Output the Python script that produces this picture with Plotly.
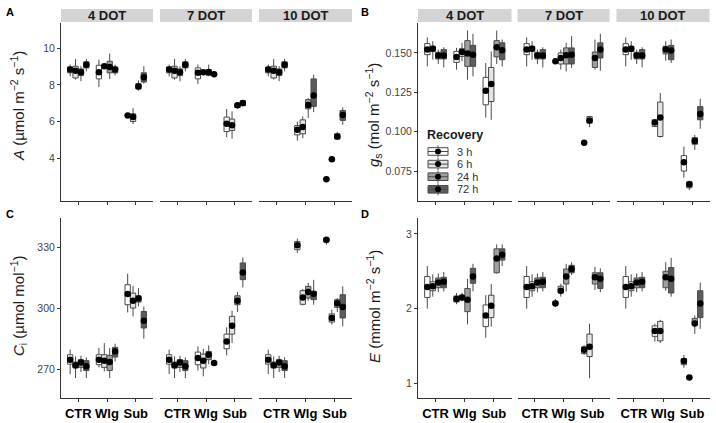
import plotly.graph_objects as go

W, H = 716, 423

# ---------------- data ----------------
RECOVERY = ["3 h", "6 h", "24 h", "72 h"]
TREATMENTS = ["CTR", "Wlg", "Sub"]
DOTS = ["4 DOT", "7 DOT", "10 DOT"]

# each row: (lower whisker, q1, median, q3, upper whisker, mean); rows ordered 3 h, 6 h, 24 h, 72 h
A_CTR = [(8.47, 8.66, 8.84, 8.98, 9.11, 8.84), (8.29, 8.38, 8.77, 9.02, 9.42, 8.77),
         (8.20, 8.51, 8.69, 8.87, 9.02, 8.69), (8.74, 8.93, 9.10, 9.26, 9.42, 9.10)]
A_WLG = [
    [(7.89, 8.33, 8.69, 9.07, 9.38, 8.69), (8.95, 8.98, 9.02, 9.06, 9.10, 9.02),
     (8.33, 8.66, 8.98, 9.29, 9.71, 8.98), (8.53, 8.66, 8.84, 8.98, 9.11, 8.84)],
    [(8.05, 8.33, 8.66, 8.93, 9.11, 8.66), (8.62, 8.65, 8.69, 8.75, 8.78, 8.69),
     (8.47, 8.52, 8.71, 8.84, 9.11, 8.71), (8.50, 8.55, 8.60, 8.65, 8.68, 8.58)],
    [(4.97, 5.28, 5.56, 5.79, 6.01, 5.56), (5.10, 5.34, 5.71, 6.10, 6.28, 5.71),
     (6.20, 6.70, 6.91, 7.20, 7.29, 6.91), (6.52, 6.83, 7.43, 8.33, 8.56, 7.43)],
]
A_SUB = [
    [(6.26, 6.29, 6.34, 6.38, 6.40, 6.34), (5.87, 6.01, 6.25, 6.43, 6.74, 6.25),
     (7.69, 7.78, 7.92, 8.07, 8.25, 7.92), (8.07, 8.16, 8.42, 8.66, 9.02, 8.42)],
    [(5.16, 5.46, 5.89, 6.25, 6.69, 5.89), (5.07, 5.52, 5.81, 6.14, 6.56, 5.81),
     (6.72, 6.77, 6.89, 6.97, 7.02, 6.89), (6.85, 6.87, 7.00, 7.14, 7.18, 7.02)],
    [(2.80, 2.83, 2.86, 2.89, 2.92, 2.86), (3.89, 3.92, 3.95, 3.98, 4.01, 3.95),
     (5.00, 5.05, 5.19, 5.34, 5.45, 5.19), (5.83, 6.07, 6.36, 6.61, 6.78, 6.36)],
]

B_CTR = [(0.1415, 0.1489, 0.1521, 0.1559, 0.1599, 0.1521), (0.1457, 0.1510, 0.1527, 0.1542, 0.1574, 0.1527),
         (0.1430, 0.1462, 0.1483, 0.1504, 0.1521, 0.1483), (0.1408, 0.1462, 0.1483, 0.1521, 0.1536, 0.1483)]
B_WLG = [
    [(0.1394, 0.1440, 0.1475, 0.1510, 0.1532, 0.1475), (0.1447, 0.1478, 0.1506, 0.1527, 0.1564, 0.1506),
     (0.1330, 0.1415, 0.1496, 0.1578, 0.1642, 0.1496), (0.1351, 0.1415, 0.1489, 0.1548, 0.1621, 0.1489)],
    [(0.1440, 0.1443, 0.1447, 0.1451, 0.1454, 0.1447), (0.1394, 0.1430, 0.1468, 0.1500, 0.1521, 0.1468),
     (0.1383, 0.1430, 0.1485, 0.1532, 0.1564, 0.1485), (0.1405, 0.1430, 0.1489, 0.1532, 0.1606, 0.1489)],
    [(0.1030, 0.1033, 0.1059, 0.1076, 0.1080, 0.1059), (0.0963, 0.0970, 0.1090, 0.1188, 0.1246, 0.1090),
     (0.1451, 0.1494, 0.1521, 0.1542, 0.1574, 0.1521), (0.1436, 0.1457, 0.1515, 0.1548, 0.1585, 0.1515)],
]
B_SUB = [
    [(0.1090, 0.1171, 0.1260, 0.1345, 0.1436, 0.1260), (0.1076, 0.1192, 0.1303, 0.1408, 0.1510, 0.1303),
     (0.1430, 0.1475, 0.1536, 0.1578, 0.1642, 0.1536), (0.1415, 0.1457, 0.1517, 0.1564, 0.1585, 0.1517)],
    [(0.0928, 0.0929, 0.0931, 0.0933, 0.0934, 0.0931), (0.1030, 0.1055, 0.1071, 0.1097, 0.1100, 0.1071),
     (0.1394, 0.1408, 0.1468, 0.1506, 0.1585, 0.1468), (0.1387, 0.1468, 0.1521, 0.1564, 0.1621, 0.1521)],
    [(0.0709, 0.0751, 0.0807, 0.0849, 0.0906, 0.0807), (0.0630, 0.0645, 0.0667, 0.0683, 0.0690, 0.0667),
     (0.0885, 0.0921, 0.0942, 0.0963, 0.0980, 0.0942), (0.1019, 0.1076, 0.1112, 0.1160, 0.1209, 0.1112)],
]

C_CTR = [(267.8, 272.7, 274.9, 277.3, 279.8, 274.9), (265.9, 270.8, 272.1, 273.7, 276.5, 272.1),
         (268.8, 271.1, 273.5, 274.9, 276.8, 273.5), (265.9, 269.6, 271.6, 274.4, 276.0, 271.6)]
C_WLG = [
    [(271.1, 272.4, 274.9, 277.3, 280.6, 274.9), (269.1, 271.1, 274.4, 277.3, 283.0, 274.4),
     (265.9, 269.6, 273.7, 277.0, 280.6, 273.7), (274.0, 276.2, 278.9, 280.9, 282.7, 278.9)],
    [(269.6, 272.4, 275.7, 278.6, 281.4, 275.7), (266.7, 270.8, 274.4, 277.6, 280.2, 274.4),
     (272.7, 274.9, 277.3, 278.9, 281.9, 277.3), (272.0, 272.4, 273.2, 274.0, 274.4, 273.2)],
    [(327.2, 328.8, 330.9, 332.8, 334.2, 330.9), (301.5, 302.0, 305.4, 308.7, 309.5, 305.4),
     (303.8, 305.1, 308.0, 310.8, 312.5, 308.0), (301.8, 304.3, 307.2, 308.3, 314.0, 307.2)],
]
C_SUB = [
    [(298.0, 301.8, 307.1, 311.6, 317.0, 307.1), (296.1, 300.2, 303.8, 307.5, 311.1, 303.8),
     (301.0, 303.1, 304.8, 306.2, 310.0, 304.8), (285.2, 290.4, 294.0, 298.5, 301.0, 294.0)],
    [(277.0, 280.2, 283.8, 287.4, 290.7, 283.8), (283.0, 287.4, 291.5, 296.1, 298.9, 291.5),
     (298.2, 301.8, 303.8, 306.2, 308.0, 303.8), (310.3, 314.1, 317.6, 322.3, 325.0, 317.6)],
    [(331.2, 332.5, 333.7, 334.5, 334.8, 333.7), (292.0, 293.3, 295.3, 297.3, 299.4, 295.3),
     (298.2, 300.5, 302.5, 304.3, 305.1, 302.5), (291.2, 295.3, 300.7, 306.7, 310.8, 300.7)],
]

D_CTR = [(2.00, 2.15, 2.29, 2.43, 2.57, 2.29), (2.16, 2.24, 2.30, 2.36, 2.46, 2.30),
         (2.22, 2.28, 2.35, 2.41, 2.47, 2.35), (2.23, 2.28, 2.36, 2.42, 2.49, 2.36)]
D_WLG = [
    [(2.06, 2.09, 2.13, 2.17, 2.21, 2.13), (2.10, 2.12, 2.15, 2.18, 2.21, 2.15),
     (1.79, 1.96, 2.12, 2.27, 2.40, 2.12), (2.23, 2.34, 2.43, 2.54, 2.60, 2.43)],
    [(2.03, 2.05, 2.07, 2.10, 2.13, 2.07), (2.16, 2.21, 2.24, 2.30, 2.33, 2.24),
     (2.23, 2.33, 2.43, 2.53, 2.60, 2.43), (2.45, 2.48, 2.53, 2.58, 2.62, 2.53)],
    [(1.56, 1.63, 1.70, 1.77, 1.80, 1.70), (1.54, 1.57, 1.70, 1.83, 1.85, 1.70),
     (2.24, 2.28, 2.42, 2.50, 2.62, 2.42), (2.16, 2.21, 2.40, 2.55, 2.68, 2.40)],
]
D_SUB = [
    [(1.61, 1.76, 1.91, 2.05, 2.18, 1.91), (1.76, 1.88, 2.04, 2.18, 2.33, 2.04),
     (2.47, 2.48, 2.67, 2.80, 2.86, 2.67), (2.57, 2.65, 2.72, 2.80, 2.86, 2.72)],
    [(1.38, 1.40, 1.45, 1.49, 1.51, 1.45), (1.07, 1.36, 1.49, 1.66, 1.80, 1.49),
     (2.25, 2.33, 2.42, 2.48, 2.56, 2.42), (2.22, 2.27, 2.40, 2.48, 2.54, 2.40)],
    [(1.21, 1.25, 1.30, 1.33, 1.38, 1.30), (1.06, 1.07, 1.08, 1.09, 1.10, 1.08),
     (1.66, 1.78, 1.80, 1.87, 1.91, 1.80), (1.73, 1.88, 2.07, 2.24, 2.35, 2.07)],
]

A_TICKS = [4, 6, 8, 10]
B_TICKS = [0.075, 0.100, 0.125, 0.150]
B_TICKTEXT = ["0.075", "0.100", "0.125", "0.150"]
C_TICKS = [270, 300, 330]
D_TICKS = [1, 2, 3]

# ---------------- styling / layout ----------------
FILLS = ["#ffffff", "#e4e4e4", "#a0a0a0", "#5c5c5c"]
LINE = "#4a4a4a"
AXC = "#333333"
FONT = "Liberation Sans"
DODGE = 0.75 / 4


def fx(x):
    return x / W


def fy(y):
    return 1 - y / H


LEFT_FACETS = [(61, 153), (160, 252), (259, 352)]
RIGHT_FACETS = [(418, 511.5), (517.5, 609.5), (616.5, 709.5)]
TOP_ROW = (22.5, 201)
BOT_ROW = (218, 398)

panels = [
    dict(letter="A", ctr=A_CTR, wlg=A_WLG, sub=A_SUB, facets=LEFT_FACETS, row=TOP_ROW, bottom=False,
         yrange=[1.68, 11.40], ticks=A_TICKS, ticktext=[str(t) for t in A_TICKS],
         title="<i>A</i> (µmol m<sup>−2</sup> s<sup>−1</sup>)", tx=18, ty=106, lx=4),
    dict(letter="B", ctr=B_CTR, wlg=B_WLG, sub=B_SUB, facets=RIGHT_FACETS, row=TOP_ROW, bottom=False,
         yrange=[0.0561, 0.1693], ticks=B_TICKS, ticktext=B_TICKTEXT,
         title="<i>g</i><sub>s</sub> (mol m<sup>−2</sup> s<sup>−1</sup>)", tx=373, ty=115, lx=359),
    dict(letter="C", ctr=C_CTR, wlg=C_WLG, sub=C_SUB, facets=LEFT_FACETS, row=BOT_ROW, bottom=True,
         yrange=[256.1, 344.3], ticks=C_TICKS, ticktext=[str(t) for t in C_TICKS],
         title="<i>C</i><sub>i</sub> (µmol mol<sup>−1</sup>)", tx=18, ty=306, lx=4),
    dict(letter="D", ctr=D_CTR, wlg=D_WLG, sub=D_SUB, facets=RIGHT_FACETS, row=BOT_ROW, bottom=True,
         yrange=[0.805, 3.213], ticks=D_TICKS, ticktext=[str(t) for t in D_TICKS],
         title="<i>E</i> (mmol m<sup>−2</sup> s<sup>−1</sup>)", tx=373, ty=307, lx=359),
]

fig = go.Figure()
layout = dict(template="none", width=W, height=H, margin=dict(l=0, r=0, t=0, b=0, pad=0),
              paper_bgcolor="white", plot_bgcolor="white", showlegend=False,
              font=dict(family=FONT, color="#222222"))
shapes, annotations = [], []


def note(text, x, y, size, color="#1a1a1a", xanchor="center", yanchor="middle", angle=0):
    annotations.append(dict(text=text, xref="paper", yref="paper", x=fx(x), y=fy(y),
                            xanchor=xanchor, yanchor=yanchor, textangle=angle, showarrow=False,
                            font=dict(family=FONT, size=size, color=color)))


for pi, P in enumerate(panels):
    yname = "y" if pi == 0 else f"y{pi + 1}"
    ykey = "yaxis" if pi == 0 else f"yaxis{pi + 1}"
    first_x = "x" if pi == 0 else f"x{pi * 3 + 1}"
    top, bot = P["row"]
    layout[ykey] = dict(domain=[fy(bot), fy(top)], anchor=first_x, range=P["yrange"],
                        tickvals=P["ticks"], ticktext=P["ticktext"], ticks="outside", ticklen=3,
                        tickcolor=AXC, showline=True, linecolor=AXC, linewidth=1,
                        showgrid=False, zeroline=False,
                        tickfont=dict(family=FONT, size=10.5, color="#444444"))
    for fi in range(3):
        n = pi * 3 + fi + 1
        xname = "x" if n == 1 else f"x{n}"
        xkey = "xaxis" if n == 1 else f"xaxis{n}"
        a, b = P["facets"][fi]
        xax = dict(domain=[fx(a), fx(b)], anchor=yname, range=[0.4, 3.6],
                   tickvals=[1, 2, 3], ticks="outside", ticklen=3, tickcolor=AXC, showline=True,
                   linecolor=AXC, linewidth=1, showgrid=False, zeroline=False,
                   tickfont=dict(family=FONT, size=13, color="black", weight="bold"))
        if P["bottom"]:
            xax["ticktext"] = TREATMENTS
        else:
            xax["showticklabels"] = False
        layout[xkey] = xax
        groups = [P["ctr"], P["wlg"][fi], P["sub"][fi]]
        for ri in range(4):
            xs = [gi + 1 + (ri - 1.5) * DODGE for gi in range(3)]
            st = [groups[gi][ri] for gi in range(3)]
            fig.add_trace(go.Box(
                x=xs, lowerfence=[s[0] for s in st], q1=[s[1] for s in st],
                median=[s[2] for s in st], q3=[s[3] for s in st],
                upperfence=[s[4] for s in st], width=DODGE * 0.98,
                fillcolor=FILLS[ri], line=dict(color=LINE, width=1), whiskerwidth=0,
                boxpoints=False, xaxis=xname, yaxis=yname, hoverinfo="skip", name=RECOVERY[ri]))
            fig.add_trace(go.Scatter(
                x=xs, y=[s[5] for s in st], mode="markers",
                marker=dict(color="black", size=6.5), xaxis=xname, yaxis=yname,
                hoverinfo="skip", name=RECOVERY[ri]))
        if not P["bottom"]:
            shapes.append(dict(type="rect", xref="paper", yref="paper", x0=fx(a), x1=fx(b),
                               y0=fy(22), y1=fy(9), fillcolor="#d4d4d4", line=dict(width=0),
                               layer="below"))
            note("<b>" + DOTS[fi] + "</b>", (a + b) / 2, 15.8, 13)
    note(P["title"], P["tx"], P["ty"], 15, angle=-90)
    note("<b>" + P["letter"] + "</b>", P["lx"], 4 if pi < 2 else 206, 11, color="black",
         xanchor="left", yanchor="top")

# legend (Recovery) inside panel B
note("<b>Recovery</b>", 425, 135, 12.5, xanchor="left")
LEG_Y0, LEG_DY = 151.5, 12.6
for ri, lab in enumerate(RECOVERY):
    cy = LEG_Y0 + ri * LEG_DY
    shapes.append(dict(type="line", xref="paper", yref="paper", x0=fx(438), x1=fx(438),
                       y0=fy(cy - 6), y1=fy(cy + 6), line=dict(color=LINE, width=1)))
    shapes.append(dict(type="rect", xref="paper", yref="paper", x0=fx(428), x1=fx(448),
                       y0=fy(cy + 3.8), y1=fy(cy - 3.8), fillcolor=FILLS[ri],
                       line=dict(color=LINE, width=1)))
    shapes.append(dict(type="line", xref="paper", yref="paper", x0=fx(428), x1=fx(448),
                       y0=fy(cy), y1=fy(cy), line=dict(color=LINE, width=1)))
    shapes.append(dict(type="circle", xref="paper", yref="paper", x0=fx(435), x1=fx(441),
                       y0=fy(cy + 3), y1=fy(cy - 3), fillcolor="black", line=dict(width=0)))
    note(lab, 455, cy, 11, color="#333333", xanchor="left")

layout["shapes"] = shapes
layout["annotations"] = annotations
fig.update_layout(**layout)
fig.write_html("out.html", config={"displayModeBar": False},
               post_script="document.body.style.margin='0px';document.body.style.overflow='hidden';")
